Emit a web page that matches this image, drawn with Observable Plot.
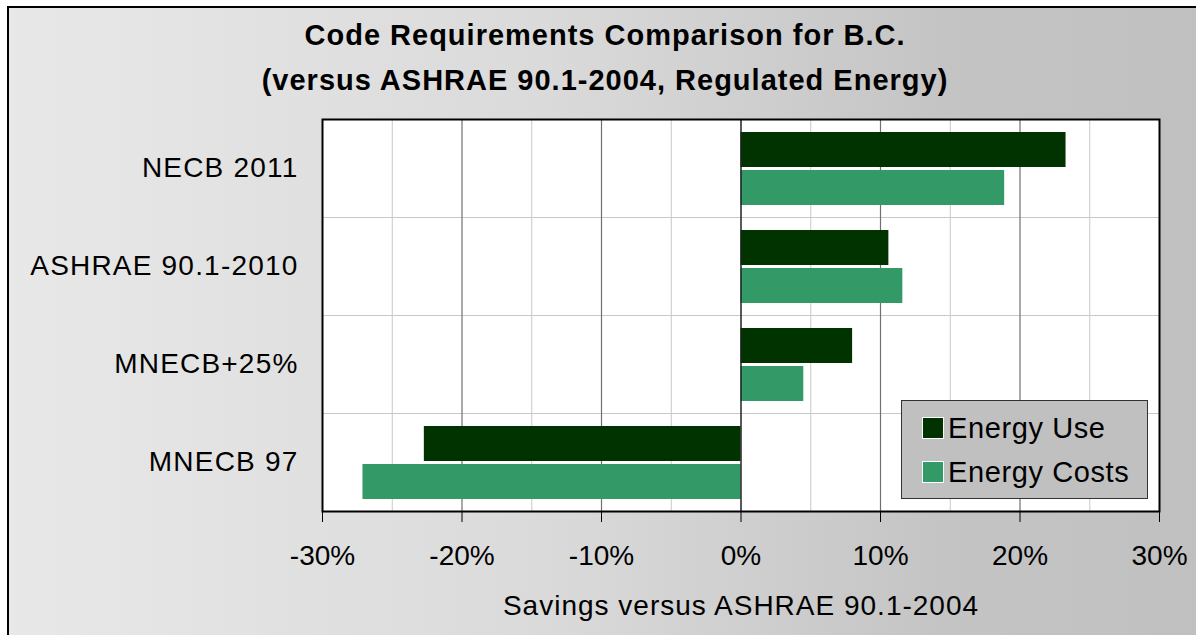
<!DOCTYPE html>
<html>
<head>
<meta charset="utf-8">
<script src="https://cdn.jsdelivr.net/npm/d3@7"></script>
<script src="https://cdn.jsdelivr.net/npm/@observablehq/plot@0.6"></script>
<style>
  body { margin: 0; background: #fff; }
  #wrap { position: relative; width: 1196px; height: 635px; overflow: hidden; font-family: "Liberation Sans", Arial, sans-serif; }
  #bg { position: absolute; left: 7px; top: 6px; width: 1200px; height: 640px; border: 2px solid #000;
        background: linear-gradient(to right, #e8e8e8 0%, #dadada 45%, #c4c4c4 78%, #c0c0c0 100%); z-index: 0; }
  #content { position: relative; z-index: 1; }
  #title { box-sizing: border-box; width: 1196px; height: 105px; padding: 13px 0 0 14px; text-align: center;
           font-weight: 700; font-size: 29px; line-height: 45px; color: #000; letter-spacing: 1px; }
  #chart svg { display: block; background: transparent; }
  #chart svg [aria-label="fy-axis tick label"] text { letter-spacing: 1.2px; }
  #chart svg [aria-label="x-axis label"] text { letter-spacing: 1px; }
  #legend { position: absolute; left: 901px; top: 400px; width: 247px; height: 99px; box-sizing: border-box; z-index: 2;
            background: #c0c0c0; border: 1px solid #333; padding: 5px 0 0 20px; font-size: 29px; color: #000; letter-spacing: 0.6px; }
  .item { display: flex; align-items: center; height: 44px; }
  .sw { width: 22px; height: 22px; border: 1px solid #fff; margin-right: 4px; box-sizing: border-box; }
</style>
</head>
<body>
<div id="wrap">
  <div id="bg"></div>
  <div id="content">
    <div id="title">Code Requirements Comparison for B.C.<br>(versus ASHRAE 90.1-2004, Regulated Energy)</div>
    <div id="chart"></div>
  </div>
  <div id="legend"></div>
</div>
<script>
// ---- data ----
const codes = ["NECB 2011", "ASHRAE 90.1-2010", "MNECB+25%", "MNECB 97"];
const series = ["Energy Use", "Energy Costs"];
const energyUse = [23.3, 10.6, 8.0, -22.7];
const energyCosts = [18.9, 11.6, 4.5, -27.1];
const colors = ["#003300", "#339966"];
const xTicks = [-30, -20, -10, 0, 10, 20, 30];
const minorGrid = [-25, -15, -5, 5, 15, 25];
const majorGrid = [-20, -10, 10, 20];
const xLabel = "Savings versus ASHRAE 90.1-2004";

const data = [];
codes.forEach((c, i) => {
  data.push({code: c, series: series[0], value: energyUse[i]});
  data.push({code: c, series: series[1], value: energyCosts[i]});
});

const plot = Plot.plot({
  width: 1196,
  height: 530,
  marginLeft: 322,
  marginRight: 37,
  marginTop: 12,
  marginBottom: 123,
  style: {fontFamily: "'Liberation Sans', Arial, sans-serif", fontSize: "28px", background: "transparent", color: "#000"},
  x: {domain: [xTicks[0], xTicks[xTicks.length - 1]]},
  y: {domain: series, paddingInner: 0.08, paddingOuter: 0.32, axis: null},
  fy: {domain: codes, padding: 0},
  color: {domain: series, range: colors},
  marks: [
    Plot.frame({fill: "#fff"}),
    Plot.frame({stroke: "#c8c8c8"}),
    Plot.ruleX(minorGrid, {stroke: "#c8c8c8", strokeWidth: 1}),
    Plot.ruleX(majorGrid, {stroke: "#707070", strokeWidth: 1.2}),
    Plot.barX(data, {fy: "code", y: "series", x: "value", fill: "series"}),
    Plot.ruleX([0], {stroke: "#222", strokeWidth: 1.5}),
    Plot.frame({stroke: "#000", strokeWidth: 2, facet: "super"}),
    Plot.axisX({ticks: xTicks, tickSize: 11, tickPadding: 23, tickFormat: d => `${d}%`,
                label: xLabel, labelAnchor: "center", labelArrow: "none", labelOffset: 103,
                fontSize: 28, stroke: "#000"}),
    Plot.axisFy({anchor: "left", tickSize: 0, tickPadding: 24, label: null, fontSize: 28})
  ]
});
document.getElementById("chart").appendChild(plot);

const legend = document.getElementById("legend");
series.forEach((s, i) => {
  const item = document.createElement("div");
  item.className = "item";
  const sw = document.createElement("div");
  sw.className = "sw";
  sw.style.background = colors[i];
  const t = document.createElement("span");
  t.textContent = s;
  item.appendChild(sw);
  item.appendChild(t);
  legend.appendChild(item);
});
</script>
</body>
</html>
